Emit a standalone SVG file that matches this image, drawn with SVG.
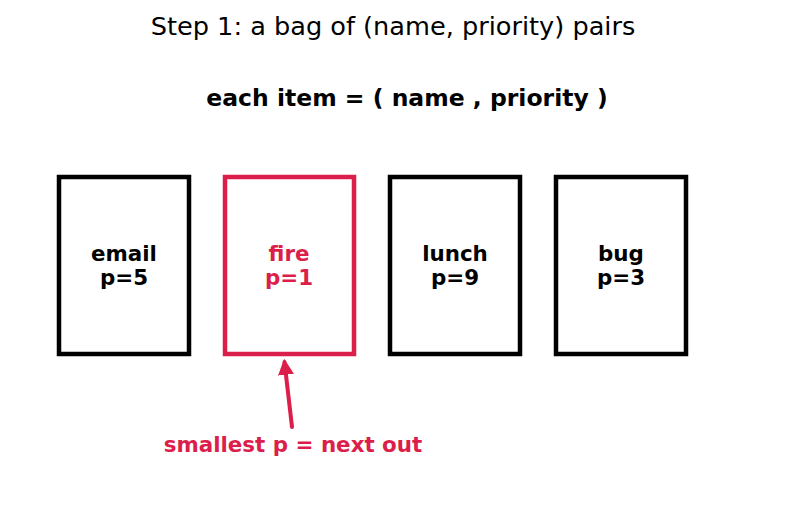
<svg xmlns="http://www.w3.org/2000/svg" width="787" height="512" viewBox="0 0 787 512">
<style>
text{font-family:"DejaVu Sans",sans-serif;text-anchor:middle}
.t{font-size:25.6px}
.b{font-weight:bold;font-size:21.4px}
.sub{font-weight:bold;font-size:23.5px}
.box{fill:#fff;stroke:#000;stroke-width:4.5}
.hl .box{stroke:#dc1e4a}
.hl text,.red{fill:#dc1e4a}
</style>
<defs>
<marker id="ah" viewBox="0 0 10 10" refX="8" refY="5" markerWidth="4" markerHeight="4" orient="auto" markerUnits="strokeWidth">
<path d="M0,0 L10,5 L0,10 Z" fill="#dc1e4a"/>
</marker>
</defs>
<rect width="787" height="512" fill="#fff"/>
<text class="t" x="393" y="35">Step 1: a bag of (name, priority) pairs</text>
<text class="sub" x="407" y="106">each item = ( name , priority )</text>
<g id="email"><rect class="box" x="59" y="177" width="130" height="177"/><text class="b" x="124" y="261">email</text><text class="b" x="124" y="285">p=5</text></g>
<g id="fire" class="hl"><rect class="box" x="225" y="177" width="129" height="177"/><text class="b" x="289" y="261">fire</text><text class="b" x="289" y="285">p=1</text></g>
<g id="lunch"><rect class="box" x="390" y="177" width="130" height="177"/><text class="b" x="455" y="261">lunch</text><text class="b" x="455" y="285">p=9</text></g>
<g id="bug"><rect class="box" x="556" y="177" width="130" height="177"/><text class="b" x="621" y="261">bug</text><text class="b" x="621" y="285">p=3</text></g>
<g id="connectors"><line x1="292" y1="427" x2="284.5" y2="362" stroke="#dc1e4a" stroke-width="4" stroke-linecap="round" marker-end="url(#ah)"/></g>
<text class="b red" x="293" y="452">smallest p = next out</text>
</svg>
